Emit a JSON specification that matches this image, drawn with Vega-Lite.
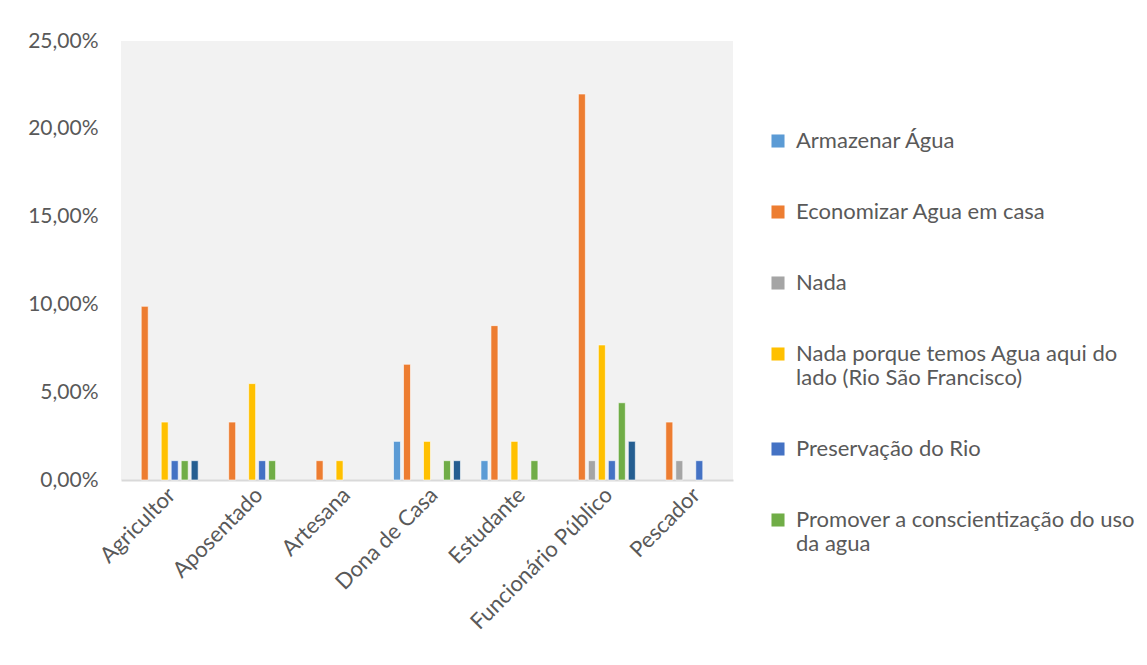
{
  "$schema": "https://vega.github.io/schema/vega-lite/v6.json",
  "width": 612,
  "height": 439,
  "autosize": {"type": "none"},
  "padding": {"left": 121, "top": 41, "right": 414, "bottom": 185},
  "background": "white",
  "config": {
    "font": "Lato",
    "view": {"stroke": null, "fill": "#f2f2f2"}
  },
  "data": {
    "values": [
      {"categoria": "Agricultor", "resposta": "Economizar Agua em casa", "valor": 0.0989},
      {"categoria": "Agricultor", "resposta": "Nada porque temos Agua aqui do lado (Rio São Francisco)", "valor": 0.033},
      {"categoria": "Agricultor", "resposta": "Preservação do Rio", "valor": 0.011},
      {"categoria": "Agricultor", "resposta": "Promover a conscientização do uso da agua", "valor": 0.011},
      {"categoria": "Agricultor", "resposta": "Outros", "valor": 0.011},
      {"categoria": "Aposentado", "resposta": "Economizar Agua em casa", "valor": 0.033},
      {"categoria": "Aposentado", "resposta": "Nada porque temos Agua aqui do lado (Rio São Francisco)", "valor": 0.0549},
      {"categoria": "Aposentado", "resposta": "Preservação do Rio", "valor": 0.011},
      {"categoria": "Aposentado", "resposta": "Promover a conscientização do uso da agua", "valor": 0.011},
      {"categoria": "Artesana", "resposta": "Economizar Agua em casa", "valor": 0.011},
      {"categoria": "Artesana", "resposta": "Nada porque temos Agua aqui do lado (Rio São Francisco)", "valor": 0.011},
      {"categoria": "Dona de Casa", "resposta": "Armazenar Água", "valor": 0.022},
      {"categoria": "Dona de Casa", "resposta": "Economizar Agua em casa", "valor": 0.0659},
      {"categoria": "Dona de Casa", "resposta": "Nada porque temos Agua aqui do lado (Rio São Francisco)", "valor": 0.022},
      {"categoria": "Dona de Casa", "resposta": "Promover a conscientização do uso da agua", "valor": 0.011},
      {"categoria": "Dona de Casa", "resposta": "Outros", "valor": 0.011},
      {"categoria": "Estudante", "resposta": "Armazenar Água", "valor": 0.011},
      {"categoria": "Estudante", "resposta": "Economizar Agua em casa", "valor": 0.0879},
      {"categoria": "Estudante", "resposta": "Nada porque temos Agua aqui do lado (Rio São Francisco)", "valor": 0.022},
      {"categoria": "Estudante", "resposta": "Promover a conscientização do uso da agua", "valor": 0.011},
      {"categoria": "Funcionário Público", "resposta": "Economizar Agua em casa", "valor": 0.2198},
      {"categoria": "Funcionário Público", "resposta": "Nada", "valor": 0.011},
      {"categoria": "Funcionário Público", "resposta": "Nada porque temos Agua aqui do lado (Rio São Francisco)", "valor": 0.0769},
      {"categoria": "Funcionário Público", "resposta": "Preservação do Rio", "valor": 0.011},
      {"categoria": "Funcionário Público", "resposta": "Promover a conscientização do uso da agua", "valor": 0.044},
      {"categoria": "Funcionário Público", "resposta": "Outros", "valor": 0.022},
      {"categoria": "Pescador", "resposta": "Economizar Agua em casa", "valor": 0.033},
      {"categoria": "Pescador", "resposta": "Nada", "valor": 0.011},
      {"categoria": "Pescador", "resposta": "Preservação do Rio", "valor": 0.011}
    ]
  },
  "mark": {"type": "bar", "stroke": "white", "strokeWidth": 0.6},
  "encoding": {
    "x": {
      "field": "categoria",
      "type": "nominal",
      "sort": ["Agricultor", "Aposentado", "Artesana", "Dona de Casa", "Estudante", "Funcionário Público", "Pescador"],
      "scale": {"paddingInner": 0.2, "paddingOuter": 0.1},
      "axis": {
        "title": null,
        "labelAngle": -45,
        "labelAlign": "right",
        "labelBaseline": "top",
        "labelFontSize": 22,
        "labelColor": "#595959",
        "labelPadding": 4,
        "labelLimit": 400,
        "labelOverlap": false,
        "ticks": false,
        "domainColor": "#d9d9d9",
        "domainWidth": 2
      }
    },
    "xOffset": {
      "field": "resposta",
      "type": "nominal",
      "sort": ["Armazenar Água", "Economizar Agua em casa", "Nada", "Nada porque temos Agua aqui do lado (Rio São Francisco)", "Preservação do Rio", "Promover a conscientização do uso da agua", "Outros"],
      "scale": {
        "domain": ["Armazenar Água", "Economizar Agua em casa", "Nada", "Nada porque temos Agua aqui do lado (Rio São Francisco)", "Preservação do Rio", "Promover a conscientização do uso da agua", "Outros"],
        "paddingInner": 0.3,
        "paddingOuter": 0.15
      }
    },
    "y": {
      "field": "valor",
      "type": "quantitative",
      "scale": {"domain": [0, 0.25]},
      "axis": {
        "title": null,
        "labelExpr": "replace(format(datum.value, '.2%'), '.', ',')",
        "values": [0, 0.05, 0.1, 0.15, 0.2, 0.25],
        "grid": false,
        "domain": false,
        "ticks": false,
        "labelOverlap": false,
        "labelFlush": false,
        "labelFontSize": 21,
        "labelColor": "#595959",
        "labelPadding": 23
      }
    },
    "color": {
      "field": "resposta",
      "type": "nominal",
      "scale": {
        "domain": ["Armazenar Água", "Economizar Agua em casa", "Nada", "Nada porque temos Agua aqui do lado (Rio São Francisco)", "Preservação do Rio", "Promover a conscientização do uso da agua", "Outros"],
        "range": ["#5b9bd5", "#ed7d31", "#a5a5a5", "#ffc000", "#4472c4", "#70ad47", "#255e91"]
      },
      "legend": {
        "title": null,
        "orient": "none",
        "legendX": 646,
        "legendY": 89,
        "values": ["Armazenar Água", "Economizar Agua em casa", "Nada", "Nada porque temos Agua aqui do lado (Rio São Francisco)", "Preservação do Rio", "Promover a conscientização do uso da agua"],
        "symbolType": "square",
        "symbolSize": 170,
        "symbolStrokeWidth": 0,
        "labelFontSize": 22,
        "labelColor": "#595959",
        "labelLimit": 420,
        "labelOffset": 7,
        "rowPadding": 49,
        "encode": {"labels": {"update": {"lineHeight": {"value": 27}}}},
        "labelExpr": "datum.label == 'Nada porque temos Agua aqui do lado (Rio São Francisco)' ? ['Nada porque temos Agua aqui do', 'lado (Rio São Francisco)'] : datum.label == 'Promover a conscientização do uso da agua' ? ['Promover a conscientização do uso', 'da agua'] : datum.label"
      }
    }
  }
}
